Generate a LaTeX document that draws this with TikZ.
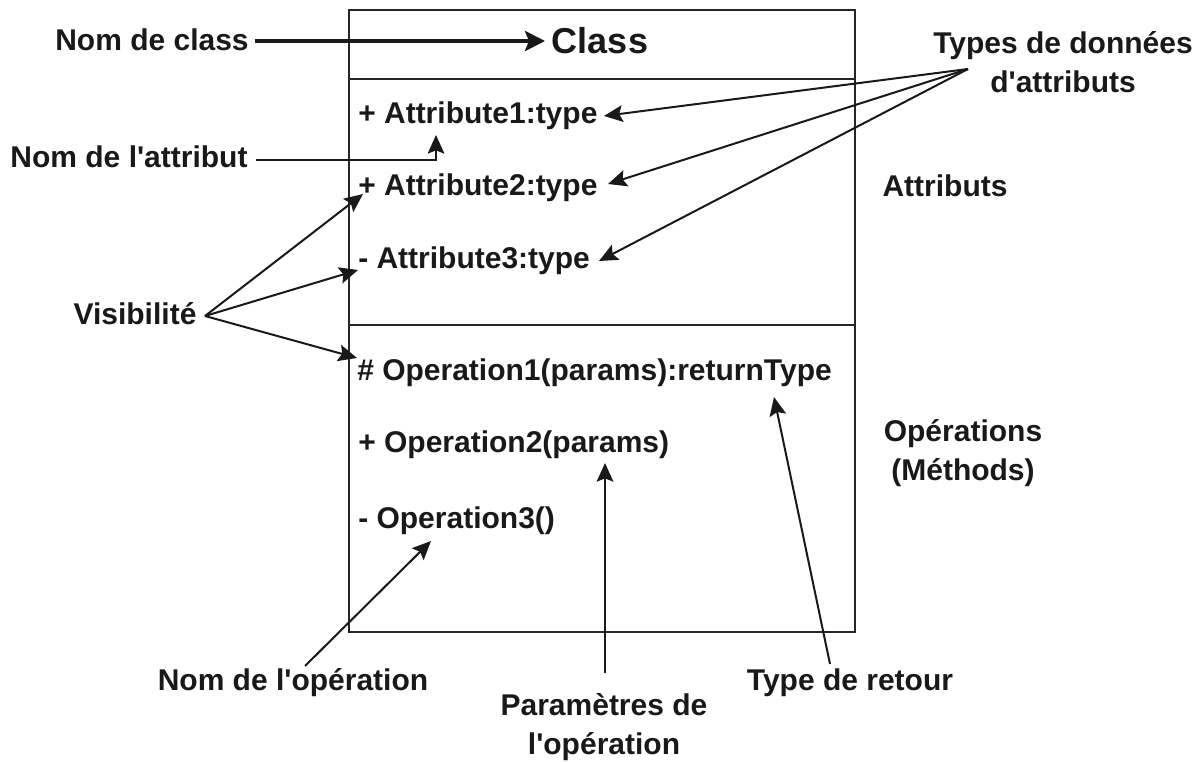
\documentclass[tikz,border=0pt]{standalone}
\usepackage{fontspec}
\setmainfont[Ligatures=TeXOff]{Liberation Sans}
\usetikzlibrary{arrows.meta}
\begin{document}
\begin{tikzpicture}[x=0.75pt,y=-0.75pt,
  lbl/.style={font=\fontsize{22.5}{29}\selectfont\bfseries, inner sep=0pt, text=black!90, align=center},
  member/.style={lbl, anchor=west},
  title/.style={font=\fontsize{27}{32}\selectfont\bfseries, inner sep=0pt, text=black!90},
  frame/.style={draw=black!85, line width=1.5pt},
  ptr/.style={draw=black!90, line width=1.5pt, -{Stealth[length=14pt,width=12.5pt,inset=2.5pt]}},
  bigptr/.style={draw=black!90, line width=3pt, -{Stealth[length=15pt,width=15pt,inset=3pt]}}]
\useasboundingbox (0,0) rectangle (1199,762);

% class box with its three compartments
\coordinate (boxNW) at (349,10);
\coordinate (boxSE) at (855,632);
\draw[frame] (boxNW) rectangle (boxSE);
\draw[frame] (349,79) -- (855,79);
\draw[frame] (349,325) -- (855,325);

% compartment contents
\node[title] (cls) at (600,41) {Class};
\node[member] (attr1) at (358,116) {+ Attribute1:type};
\node[member] (attr2) at (358,188) {+ Attribute2:type};
\node[member] (attr3) at (358,261) {- Attribute3:type};
\node[member] (op1) at (357,373) {\# Operation1(params):returnType};
\node[member] (op2) at (358,445) {+ Operation2(params)};
\node[member] (op3) at (358,521) {- Operation3()};

% side captions
\node[lbl] (attrs) at (945,186) {Attributs};
\node[lbl] (ops) at (963,453) {Opérations\\(Méthods)};

% annotation labels
\node[lbl] (nomclass) at (152,40) {Nom de class};
\node[lbl] (nomattr) at (129,157) {Nom de l'attribut};
\node[lbl] (types) at (1063,62) {Types de données\\d'attributs};
\node[lbl] (visi) at (135,314) {Visibilité};
\node[lbl] (nomop) at (293,683) {Nom de l'opération};
\node[lbl] (params) at (604,727) {Paramètres de\\l'opération};
\node[lbl] (retour) at (850,683) {Type de retour};

% arrow ends
\coordinate (typesO) at (968,69);
\coordinate (visiO) at (205,316);
\coordinate (tA1) at (604,116);
\coordinate (tA2) at (608,184);
\coordinate (tA3) at (599,261);
\coordinate (tNameA) at (436,135);
\coordinate (vA2) at (363,194);
\coordinate (vA3) at (358,270);
\coordinate (vO1) at (357,358);
\coordinate (tRet) at (774,397);
\coordinate (tPar) at (605,463);
\coordinate (tOp3) at (431,541);
\coordinate (retO) at (830,664);
\coordinate (parO) at (605,673);
\coordinate (opO) at (305,666);

% connectors
\draw[bigptr, shorten >=5pt] (nomclass.east) ++(6,1) -- (cls.west);
\draw[ptr] (nomattr.east) ++(8,3) -| (tNameA);
\draw[ptr] (typesO) -- (tA1);
\draw[ptr] (typesO) -- (tA2);
\draw[ptr] (typesO) -- (tA3);
\draw[ptr] (visiO) -- (vA2);
\draw[ptr] (visiO) -- (vA3);
\draw[ptr] (visiO) -- (vO1);
\draw[ptr] (retO) -- (tRet);
\draw[ptr] (parO) -- (tPar);
\draw[ptr] (opO) -- (tOp3);
\end{tikzpicture}
\end{document}
